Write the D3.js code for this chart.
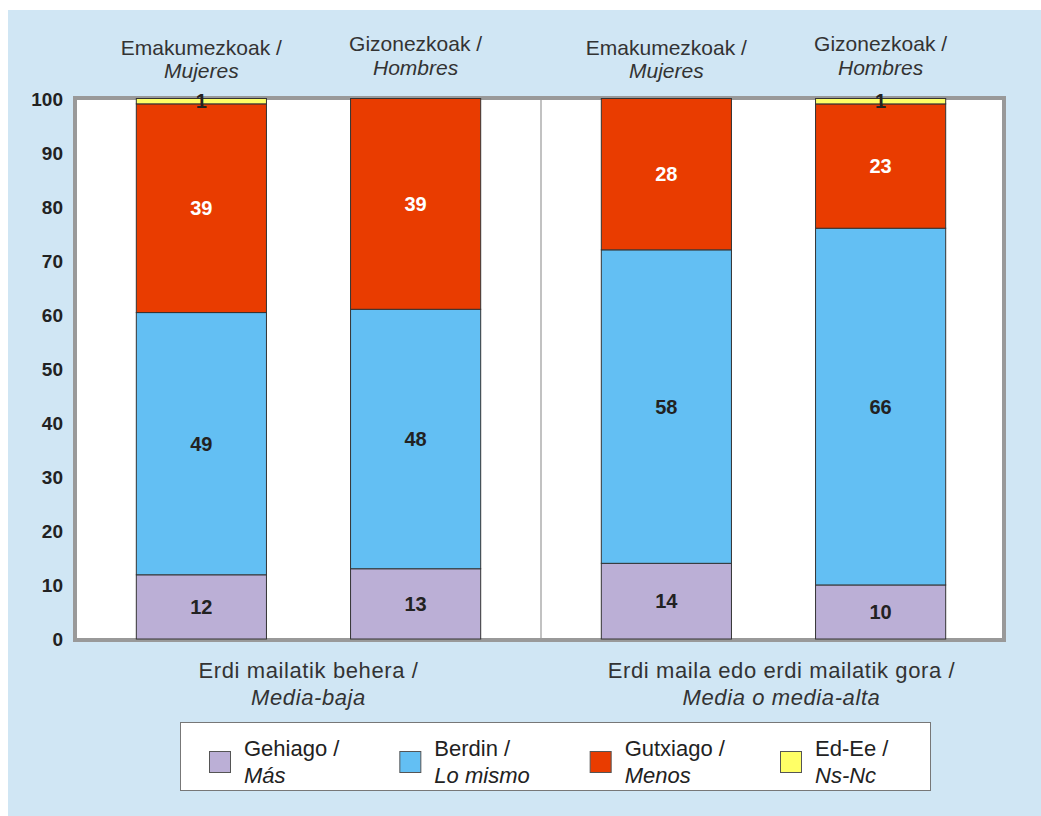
<!DOCTYPE html>
<html>
<head>
<meta charset="utf-8">
<script src="https://cdn.jsdelivr.net/npm/d3@7/dist/d3.min.js"></script>
<style>
  html, body { margin: 0; padding: 0; background: #ffffff; }
  svg { display: block; font-family: "Liberation Sans", Arial, sans-serif; }
</style>
</head>
<body>
<svg id="chart" width="1041" height="816"></svg>
<script>
// ---------- data ----------
const groupsEu = ["Erdi mailatik behera /", "Erdi maila edo erdi mailatik gora /"];
const groupsEs = ["Media-baja", "Media o media-alta"];
const sexEu = ["Emakumezkoak /", "Gizonezkoak /"];
const sexEs = ["Mujeres", "Hombres"];
const seriesKeys = ["mas", "mismo", "menos", "nsnc"];
const seriesEu = ["Gehiago /", "Berdin /", "Gutxiago /", "Ed-Ee /"];
const seriesEs = ["Más", "Lo mismo", "Menos", "Ns-Nc"];
const seriesColors = ["#BBAFD6", "#63BFF3", "#E93C00", "#FFFF66"];
const labelColors = ["#222222", "#222222", "#ffffff", "#222222"];
// bars in order: [baja-Mujeres, baja-Hombres, alta-Mujeres, alta-Hombres]
const mas   = [12, 13, 14, 10];
const mismo = [49, 48, 58, 66];
const menos = [39, 39, 28, 23];
const nsnc  = [1, 0, 0, 1];
const yTicks = [0, 10, 20, 30, 40, 50, 60, 70, 80, 90, 100];

// ---------- build table ----------
const rows = [];
groupsEu.forEach((g, gi) => {
  sexEu.forEach((s, si) => {
    const i = gi * sexEu.length + si;
    rows.push({ group: gi, sex: si, mas: mas[i], mismo: mismo[i], menos: menos[i], nsnc: nsnc[i] });
  });
});
const stacked = d3.stack().keys(seriesKeys).offset(d3.stackOffsetExpand)(rows);

// ---------- layout ----------
const svg = d3.select("#chart");
svg.append("rect").attr("x", 8).attr("y", 10).attr("width", 1041 - 8).attr("height", 816 - 10)
  .attr("fill", "#D0E6F4");

const frame = { left: 75, right: 1004, top: 98, bottom: 640 };
const xGroup = d3.scaleBand().domain([0, 1]).range([76, 1006]);
const xSex = d3.scaleBand().domain([0, 1]).range([0, xGroup.bandwidth()])
  .paddingInner(0.3925).paddingOuter(0.2815);
const y = d3.scaleLinear().domain([0, 100]).range([639, 98.5]);

// plot area frame
svg.append("rect")
  .attr("x", frame.left).attr("y", frame.top)
  .attr("width", frame.right - frame.left).attr("height", frame.bottom - frame.top)
  .attr("fill", "#ffffff").attr("stroke", "#999999").attr("stroke-width", 4);

// group separator
svg.append("line")
  .attr("x1", xGroup(1)).attr("x2", xGroup(1))
  .attr("y1", frame.top + 2).attr("y2", frame.bottom - 2)
  .attr("stroke", "#999999").attr("stroke-width", 1.2);

// bars
const barX = d => xGroup(d.data.group) + xSex(d.data.sex);
stacked.forEach((layer, li) => {
  const g = svg.append("g");
  g.selectAll("rect").data(layer.filter(d => d.data[layer.key] > 0)).join("rect")
    .attr("x", barX)
    .attr("y", d => y(d[1] * 100))
    .attr("width", xSex.bandwidth())
    .attr("height", d => y(d[0] * 100) - y(d[1] * 100))
    .attr("fill", seriesColors[li])
    .attr("stroke", "#333333").attr("stroke-width", 1);
});
// bar labels
stacked.forEach((layer, li) => {
  svg.append("g").selectAll("text").data(layer.filter(d => d.data[layer.key] > 0)).join("text")
    .attr("x", d => barX(d) + xSex.bandwidth() / 2)
    .attr("y", d => y((d[0] + d[1]) / 2 * 100))
    .attr("text-anchor", "middle").attr("dominant-baseline", "central")
    .attr("font-size", 20).attr("font-weight", "bold")
    .attr("fill", labelColors[li])
    .text(d => d.data[layer.key]);
});

// y axis labels
const yAxis = d3.axisLeft(y).tickValues(yTicks).tickSize(0).tickPadding(0);
const ya = svg.append("g").attr("transform", "translate(63,0)").call(yAxis);
ya.select(".domain").remove();
ya.selectAll("text")
  .attr("font-family", "Liberation Sans, Arial, sans-serif")
  .attr("font-size", 19).attr("font-weight", "bold").attr("fill", "#222222")
  .attr("dy", "0.35em").attr("x", 0);

// top sex labels
const sexLineY = [[47, 70], [43, 67]];
groupsEu.forEach((g, gi) => {
  sexEu.forEach((s, si) => {
    const cx = xGroup(gi) + xSex(si) + xSex.bandwidth() / 2;
    svg.append("text").attr("x", cx).attr("y", sexLineY[si][0])
      .attr("text-anchor", "middle").attr("dominant-baseline", "central")
      .attr("font-size", 21).attr("fill", "#333333").text(s);
    svg.append("text").attr("x", cx).attr("y", sexLineY[si][1])
      .attr("text-anchor", "middle").attr("dominant-baseline", "central")
      .attr("font-size", 21).attr("font-style", "italic").attr("fill", "#333333").text(sexEs[si]);
  });
});

// bottom group labels
groupsEu.forEach((g, gi) => {
  const cx = xGroup(gi) + xGroup.bandwidth() / 2 + (gi === 1 ? 8 : 0);
  svg.append("text").attr("x", cx).attr("y", 670)
    .attr("text-anchor", "middle").attr("dominant-baseline", "central")
    .attr("font-size", 22).attr("letter-spacing", 0.6).attr("fill", "#333333").text(g);
  svg.append("text").attr("x", cx).attr("y", 697)
    .attr("text-anchor", "middle").attr("dominant-baseline", "central")
    .attr("font-size", 22).attr("letter-spacing", 0.6).attr("font-style", "italic")
    .attr("fill", "#333333").text(groupsEs[gi]);
});

// legend
svg.append("rect").attr("x", 180.5).attr("y", 722.5).attr("width", 750).attr("height", 68)
  .attr("fill", "#ffffff").attr("stroke", "#777777").attr("stroke-width", 1);
const legX = d3.scalePoint().domain(seriesKeys).range([209, 780]);
seriesKeys.forEach((k, i) => {
  const lx = legX(k);
  svg.append("rect").attr("x", lx + 0.5).attr("y", 751.5).attr("width", 21).attr("height", 21)
    .attr("fill", seriesColors[i]).attr("stroke", "#555555").attr("stroke-width", 1);
  svg.append("text").attr("x", lx + 35).attr("y", 748)
    .attr("dominant-baseline", "central").attr("font-size", 22).attr("fill", "#222222")
    .text(seriesEu[i]);
  svg.append("text").attr("x", lx + 35).attr("y", 775)
    .attr("dominant-baseline", "central").attr("font-size", 22).attr("font-style", "italic")
    .attr("fill", "#222222").text(seriesEs[i]);
});
</script>
</body>
</html>
